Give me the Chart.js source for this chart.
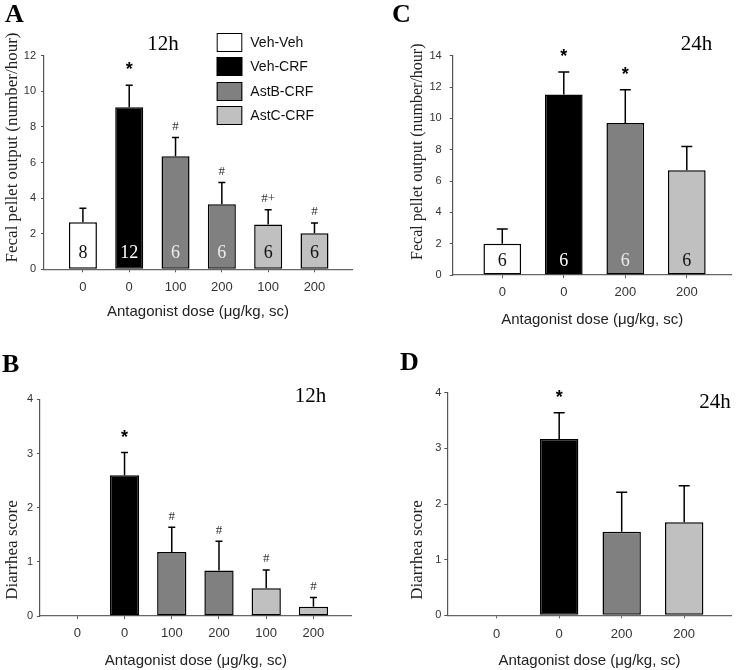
<!DOCTYPE html>
<html><head><meta charset="utf-8">
<script src="https://cdn.jsdelivr.net/npm/chart.js@4.4.1/dist/chart.umd.min.js"></script>
<style>
html,body{margin:0;padding:0;background:#fff;}
#wrap{position:relative;width:737px;height:670px;overflow:hidden;background:#fff;}
canvas{position:absolute;left:0;top:0;}
</style></head><body>
<div id="wrap">
<canvas id="cA" width="737" height="670"></canvas>
<canvas id="cB" width="737" height="670"></canvas>
<canvas id="cC" width="737" height="670"></canvas>
<canvas id="cD" width="737" height="670"></canvas>
</div>
<script>
// ---------- data ----------
const groupNames = ['Veh-Veh', 'Veh-CRF', 'AstB-CRF', 'AstC-CRF'];
const xAxisTitle = 'Antagonist dose (μg/kg, sc)';

// Panel A: fecal pellet output, 12h
const dosesA = ['0', '0', '100', '200', '100', '200'];
const groupsA = [0, 1, 2, 2, 3, 3];
const pelletA = [2.64, 9.10, 6.35, 3.65, 2.51, 2.02];
const pelletSemA = [0.79, 1.24, 1.05, 1.22, 0.84, 0.58];
const nA = ['8', '12', '6', '6', '6', '6'];
const sigA = ['', '*', '#', '#', '#+', '#'];

// Panel B: diarrhea score, 12h
const dosesB = ['0', '0', '100', '200', '100', '200'];
const groupsB = [0, 1, 2, 2, 3, 3];
const diarrheaB = [0, 2.60, 1.18, 0.84, 0.51, 0.17];
const diarrheaSemB = [0, 0.42, 0.46, 0.54, 0.34, 0.17];
const sigB = ['', '*', '#', '#', '#', '#'];

// Panel C: fecal pellet output, 24h
const dosesC = ['0', '0', '200', '200'];
const groupsC = [0, 1, 2, 3];
const pelletC = [2.00, 11.53, 9.70, 6.68];
const pelletSemC = [0.94, 1.43, 2.13, 1.53];
const nC = ['6', '6', '6', '6'];
const sigC = ['', '*', '*', ''];

// Panel D: diarrhea score, 24h
const dosesD = ['0', '0', '200', '200'];
const groupsD = [0, 1, 2, 3];
const diarrheaD = [0, 3.17, 1.50, 1.67];
const diarrheaSemD = [0, 0.47, 0.71, 0.66];
const sigD = ['', '*', '', ''];

// ---------- style ----------
const FILL = ['#ffffff', '#000000', '#808080', '#c0c0c0'];
const NCOL = ['#111111', '#ffffff', '#ececec', '#111111'];
const SANS = '"Liberation Sans", Arial, sans-serif';
const SERIF = '"Liberation Serif", "Times New Roman", serif';
const W = 737, H = 670;

function makePanel(p) {
  const yAxisW = 40;
  const xAxisH = p.xTitleOff + 9;
  const padding = {
    left: p.left - yAxisW,
    right: W - p.right,
    top: p.top,
    bottom: Math.max(0, H - p.bottom - xAxisH)
  };
  const annot = {
    id: 'annot' + p.id,
    afterDatasetsDraw(chart) {
      const c = chart.ctx, xs = chart.scales.x, ys = chart.scales.y;
      c.save();
      p.values.forEach((v, i) => {
        const x = xs.getPixelForValue(i);
        const sem = p.sem[i] || 0;
        if (sem > 0) {
          const y0 = ys.getPixelForValue(v), y1 = ys.getPixelForValue(v + sem);
          c.strokeStyle = '#000'; c.lineWidth = 1.5;
          c.beginPath();
          c.moveTo(x, y0); c.lineTo(x, y1);
          c.moveTo(x - p.cap, y1); c.lineTo(x + p.cap, y1);
          c.stroke();
        }
        const top = ys.getPixelForValue(v + sem);
        const s = p.sig[i];
        c.textAlign = 'center';
        if (s === '*') {
          c.font = 'bold 18px ' + SANS; c.fillStyle = '#000'; c.textBaseline = 'alphabetic';
          c.fillText('*', x, top - 9.8);
        } else if (s) {
          c.font = '13px ' + SERIF; c.fillStyle = '#333'; c.textBaseline = 'middle';
          c.fillText(s, x, top - 11);
        }
        if (p.n) {
          c.font = '18px ' + SERIF; c.fillStyle = NCOL[p.groups[i]]; c.textBaseline = 'middle';
          c.fillText(p.n[i], x, ys.getPixelForValue(0) - p.nOff);
        }
      });
      c.restore();
    },
    afterDraw(chart) {
      const c = chart.ctx;
      c.save();
      // panel letter
      c.font = 'bold 26px ' + SERIF; c.fillStyle = '#000'; c.textAlign = 'left'; c.textBaseline = 'alphabetic';
      c.fillText(p.letter, p.letterX, p.letterY);
      // time label
      c.font = '21px ' + SERIF; c.textAlign = 'center';
      c.fillText(p.time, p.timeX, p.timeY);
      // y title
      c.translate(p.yTitleX, p.yTitleY); c.rotate(-Math.PI / 2);
      c.font = p.yTitleSize + 'px ' + SERIF; c.fillStyle = '#222'; c.textBaseline = 'middle';
      c.fillText(p.yTitle, 0, 0);
      c.restore();
      if (p.legend) {
        c.save();
        const L = p.legend;
        groupNames.forEach((g, i) => {
          const y = L.tops[i];
          c.fillStyle = FILL[i]; c.fillRect(L.x, y, L.w, L.h);
          c.strokeStyle = '#000'; c.lineWidth = 1; c.strokeRect(L.x + 0.5, y + 0.5, L.w - 1, L.h - 1);
          c.fillStyle = '#111'; c.font = '14px ' + SANS; c.textAlign = 'left'; c.textBaseline = 'middle';
          c.fillText(g, L.x + L.w + 8, y + L.h / 2 + 0.5);
        });
        c.restore();
      }
    }
  };
  return new Chart(document.getElementById(p.id), {
    type: 'bar',
    data: {
      datasets: [{
        data: p.values.map((v, i) => ({ x: i, y: v })),
        backgroundColor: p.groups.map(g => FILL[g]),
        borderColor: '#000',
        borderWidth: p.values.map(v => v > 0 ? 1.5 : 0),
        borderSkipped: false,
        categoryPercentage: 1,
        barPercentage: p.barPct
      }]
    },
    options: {
      responsive: false, animation: false, devicePixelRatio: 1,
      layout: { padding },
      plugins: { legend: { display: false }, tooltip: { enabled: false } },
      scales: {
        x: {
          type: 'linear', min: p.xMin, max: p.xMax, offset: false, bounds: 'data',
          grid: { display: true, offset: false, drawOnChartArea: false, drawTicks: true, tickLength: 3, color: '#555', lineWidth: 1 },
          border: { display: true, color: '#666', width: 1.2 },
          afterBuildTicks: axis => { axis.ticks = p.doses.map((_, i) => ({ value: i })); },
          afterFit: axis => { axis.height = xAxisH; },
          ticks: {
            callback: v => p.doses[Math.round(v)],
            autoSkip: false, maxRotation: 0, minRotation: 0, padding: p.xTickPad,
            color: '#333', font: { family: SANS, size: 13 }
          },
          title: { display: true, text: xAxisTitle, color: '#222', font: { family: SANS, size: 15 }, padding: { top: 0, bottom: 0 } }
        },
        y: {
          min: 0, max: p.yMax,
          ticks: { stepSize: p.yStep, padding: p.yTickPad, color: '#333', font: { family: SANS, size: 11 } },
          grid: { drawOnChartArea: false, drawTicks: true, tickLength: 3, color: '#555' },
          border: { display: true, color: '#555', width: 1.2 },
          afterFit: axis => { axis.width = yAxisW; }
        }
      }
    },
    plugins: [annot]
  });
}

makePanel({
  id: 'cA', doses: dosesA, groups: groupsA, values: pelletA, sem: pelletSemA, n: nA, sig: sigA,
  yMax: 12, yStep: 2, left: 44, right: 352, top: 55.7, bottom: 269.3, xMin: -0.84, xMax: 5.81,
  xTitleOff: 42.4, barPct: 0.605, cap: 3.5, nOff: 16.5, xTickPad: 7, yTickPad: 5,
  letter: 'A', letterX: 5, letterY: 22, time: '12h', timeX: 163, timeY: 50,
  yTitle: 'Fecal pellet output (number/hour)', yTitleX: 12.5, yTitleY: 147.5, yTitleSize: 17,
  legend: { x: 216.7, w: 25.6, h: 19, tops: [33, 57, 82, 106] }
});
makePanel({
  id: 'cB', doses: dosesB, groups: groupsB, values: diarrheaB, sem: diarrheaSemB, n: null, sig: sigB,
  yMax: 4, yStep: 1, left: 40, right: 351.7, top: 399.3, bottom: 616.7, xMin: -0.79, xMax: 5.81,
  xTitleOff: 45, barPct: 0.62, cap: 3.5, nOff: 0, xTickPad: 7, yTickPad: 4,
  letter: 'B', letterX: 2, letterY: 372, time: '12h', timeX: 310.5, timeY: 402,
  yTitle: 'Diarrhea score', yTitleX: 13, yTitleY: 550, yTitleSize: 17
});
makePanel({
  id: 'cC', doses: dosesC, groups: groupsC, values: pelletC, sem: pelletSemC, n: nC, sig: sigC,
  yMax: 14, yStep: 2, left: 452.7, right: 731.7, top: 55.7, bottom: 275, xMin: -0.806, xMax: 3.73,
  xTitleOff: 45, barPct: 0.613, cap: 5.5, nOff: 13.3, xTickPad: 7, yTickPad: 8,
  letter: 'C', letterX: 392, letterY: 22, time: '24h', timeX: 696.5, timeY: 50,
  yTitle: 'Fecal pellet output (number/hour)', yTitleX: 417.5, yTitleY: 151.7, yTitleSize: 16
});
makePanel({
  id: 'cD', doses: dosesD, groups: groupsD, values: diarrheaD, sem: diarrheaSemD, n: null, sig: sigD,
  yMax: 4, yStep: 1, left: 447.3, right: 731.7, top: 392.7, bottom: 616, xMin: -0.79, xMax: 3.76,
  xTitleOff: 45.7, barPct: 0.614, cap: 5.5, nOff: 0, xTickPad: 8, yTickPad: 3,
  letter: 'D', letterX: 400, letterY: 370, time: '24h', timeX: 715, timeY: 408,
  yTitle: 'Diarrhea score', yTitleX: 417.5, yTitleY: 550, yTitleSize: 17
});
</script>
</body></html>
